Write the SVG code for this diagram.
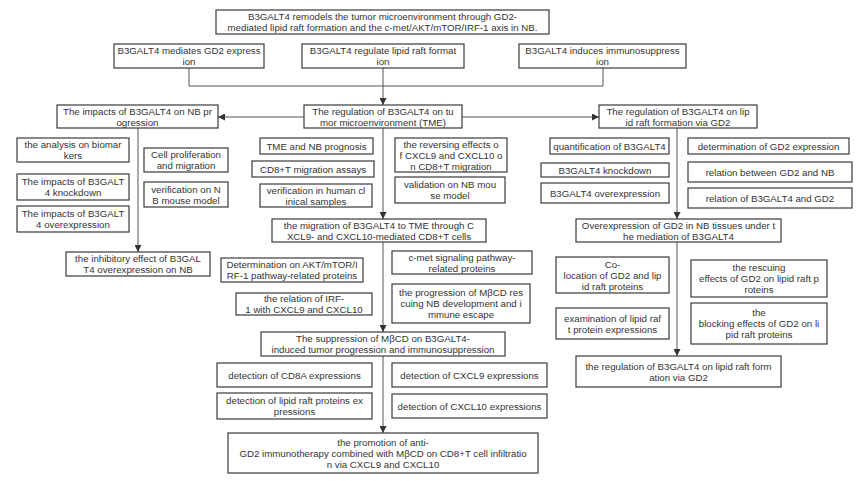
<svg xmlns="http://www.w3.org/2000/svg" width="860" height="481" viewBox="0 0 860 481">
<defs>
<marker id="ah" viewBox="0 0 8 8" refX="8" refY="4" markerWidth="7" markerHeight="7" markerUnits="userSpaceOnUse" orient="auto">
<path d="M0,0 L8,4 L0,8 z" fill="#333"/>
</marker>
</defs>
<style>
.b{fill:#fff;stroke:#3a3a3a;stroke-width:1.2}
.t{font-family:"Liberation Sans",Arial,sans-serif;font-size:9.7px;fill:#333;text-anchor:middle}
.c{fill:none;stroke:#555;stroke-width:1}
.a{marker-end:url(#ah)}
</style>
<rect width="860" height="481" fill="#fff"/>
<g id="connectors">
<path class="c" d="M189,68 V86 H603 V68"/>
<path class="c a" d="M383,68 V105"/>
<path class="c a" d="M304,117 H218"/>
<path class="c a" d="M462,117 H599"/>
<path class="c a" d="M138,128 V252"/>
<path class="c a" d="M383,128 V219"/>
<path class="c a" d="M677,128 V219"/>
<path class="c a" d="M383,242 V332"/>
<path class="c a" d="M677,242 V356"/>
<path class="c a" d="M383,356 V433"/>
</g>
<g id="title"><rect class="b" x="216" y="10" width="333" height="24"/><text class="t" x="382.5" y="20.3">B3GALT4 remodels the tumor microenvironment through GD2-<tspan x="382.5" dy="11">mediated lipid raft formation and the c-met/AKT/mTOR/IRF-1 axis in NB.</tspan></text></g>
<g id="n_mediates"><rect class="b" x="114" y="44" width="150" height="24"/><text class="t" x="189" y="54.3">B3GALT4 mediates GD2 express<tspan x="189" dy="11">ion</tspan></text></g>
<g id="n_regulate"><rect class="b" x="302" y="44" width="162" height="24"/><text class="t" x="383" y="54.3">B3GALT4 regulate lipid raft format<tspan x="383" dy="11">ion</tspan></text></g>
<g id="n_induces"><rect class="b" x="519" y="44" width="167" height="24"/><text class="t" x="602.5" y="54.3">B3GALT4 induces immunosuppress<tspan x="602.5" dy="11">ion</tspan></text></g>
<g id="n_impacts"><rect class="b" x="57" y="105" width="161" height="23"/><text class="t" x="137.5" y="114.8">The impacts of B3GALT4 on NB pr<tspan x="137.5" dy="11">ogression</tspan></text></g>
<g id="n_tme"><rect class="b" x="304" y="105" width="158" height="23"/><text class="t" x="383" y="114.8">The regulation of B3GALT4 on tu<tspan x="383" dy="11">mor microenvironment (TME)</tspan></text></g>
<g id="n_raft"><rect class="b" x="599" y="105" width="158" height="23"/><text class="t" x="678" y="114.8">The regulation of B3GALT4 on lip<tspan x="678" dy="11">id raft formation via GD2</tspan></text></g>
<g id="n_biomarkers"><rect class="b" x="17" y="138" width="112" height="24"/><text class="t" x="73" y="148.3">the analysis on biomar<tspan x="73" dy="11">kers</tspan></text></g>
<g id="n_knockdown"><rect class="b" x="17" y="174" width="112" height="26"/><text class="t" x="73" y="185.3">The impacts of B3GALT<tspan x="73" dy="11">4 knockdown</tspan></text></g>
<g id="n_overexp"><rect class="b" x="17" y="206" width="112" height="26"/><text class="t" x="73" y="217.3">The impacts of B3GALT<tspan x="73" dy="11">4 overexpression</tspan></text></g>
<g id="n_prolif"><rect class="b" x="144" y="148" width="84" height="24"/><text class="t" x="186" y="158.3">Cell proliferation<tspan x="186" dy="11">and migration</tspan></text></g>
<g id="n_mouse"><rect class="b" x="144" y="182" width="84" height="25"/><text class="t" x="186" y="192.8">verification on N<tspan x="186" dy="11">B mouse model</tspan></text></g>
<g id="n_inhib"><rect class="b" x="66" y="252" width="144" height="24"/><text class="t" x="138" y="262.3">the inhibitory effect of B3GAL<tspan x="138" dy="11">T4 overexpression on NB</tspan></text></g>
<g id="n_prog"><rect class="b" x="260" y="138" width="113" height="16"/><text class="t" x="316.5" y="149.8">TME and NB prognosis</text></g>
<g id="n_cd8"><rect class="b" x="252" y="161" width="122" height="16"/><text class="t" x="313" y="172.8">CD8+T migration assays</text></g>
<g id="n_human"><rect class="b" x="260" y="184" width="112" height="23"/><text class="t" x="316" y="193.8">verification in human cl<tspan x="316" dy="11">inical samples</tspan></text></g>
<g id="n_reverse"><rect class="b" x="395" y="138" width="112" height="34"/><text class="t" x="451" y="147.8">the reversing effects o<tspan x="451" dy="11">f CXCL9 and CXCL10 o</tspan><tspan x="451" dy="11">n CD8+T migration</tspan></text></g>
<g id="n_validation"><rect class="b" x="395" y="177" width="110" height="26"/><text class="t" x="450" y="188.3">validation on NB mou<tspan x="450" dy="11">se model</tspan></text></g>
<g id="n_migration"><rect class="b" x="272" y="219" width="214" height="23"/><text class="t" x="379" y="228.8">the migration of B3GALT4 to TME through C<tspan x="379" dy="11">XCL9- and CXCL10-mediated CD8+T cells</tspan></text></g>
<g id="n_akt"><rect class="b" x="221" y="258" width="142" height="24"/><text class="t" x="292" y="268.3">Determination on AKT/mTOR/I<tspan x="292" dy="11">RF-1 pathway-related proteins</tspan></text></g>
<g id="n_irf"><rect class="b" x="236" y="293" width="136" height="22"/><text class="t" x="304" y="302.3">the relation of IRF-<tspan x="304" dy="11">1 with CXCL9 and CXCL10</tspan></text></g>
<g id="n_cmet"><rect class="b" x="392" y="251" width="140" height="23"/><text class="t" x="462" y="260.8">c-met signaling pathway-<tspan x="462" dy="11">related proteins</tspan></text></g>
<g id="n_mbcd"><rect class="b" x="392" y="284" width="138" height="39"/><text class="t" x="461" y="296.3">the progression of MβCD res<tspan x="461" dy="11">cuing NB development and i</tspan><tspan x="461" dy="11">mmune escape</tspan></text></g>
<g id="n_suppression"><rect class="b" x="261" y="332" width="244" height="24"/><text class="t" x="383" y="342.3">The suppression of MβCD on B3GALT4-<tspan x="383" dy="11">induced tumor progression and immunosuppression</tspan></text></g>
<g id="n_cd8a"><rect class="b" x="217" y="363" width="155" height="24"/><text class="t" x="294.5" y="378.8">detection of CD8A expressions</text></g>
<g id="n_lipid"><rect class="b" x="217" y="393" width="155" height="26"/><text class="t" x="294.5" y="404.3">detection of lipid raft proteins ex<tspan x="294.5" dy="11">pressions</tspan></text></g>
<g id="n_cxcl9"><rect class="b" x="392" y="363" width="155" height="24"/><text class="t" x="469.5" y="378.8">detection of CXCL9 expressions</text></g>
<g id="n_cxcl10"><rect class="b" x="392" y="394" width="155" height="24"/><text class="t" x="469.5" y="409.8">detection of CXCL10 expressions</text></g>
<g id="n_promotion"><rect class="b" x="228" y="433" width="310" height="40"/><text class="t" x="383" y="445.8">the promotion of anti-<tspan x="383" dy="11">GD2 immunotherapy combined with MβCD on CD8+T cell infiltratio</tspan><tspan x="383" dy="11">n via CXCL9 and CXCL10</tspan></text></g>
<g id="n_quant"><rect class="b" x="550" y="138" width="119" height="16"/><text class="t" x="609.5" y="149.8">quantification of B3GALT4</text></g>
<g id="n_gd2expr"><rect class="b" x="688" y="138" width="161" height="16"/><text class="t" x="768.5" y="149.8">determination of GD2 expression</text></g>
<g id="n_b3kd"><rect class="b" x="541" y="163" width="128" height="14"/><text class="t" x="605" y="173.8">B3GALT4 knockdown</text></g>
<g id="n_b3oe"><rect class="b" x="541" y="183" width="128" height="20"/><text class="t" x="605" y="196.8">B3GALT4 overexpression</text></g>
<g id="n_relnb"><rect class="b" x="688" y="162" width="164" height="20"/><text class="t" x="770" y="175.8">relation between GD2 and NB</text></g>
<g id="n_relb3"><rect class="b" x="688" y="188" width="164" height="20"/><text class="t" x="770" y="201.8">relation of B3GALT4 and GD2</text></g>
<g id="n_ovgd2"><rect class="b" x="576" y="219" width="205" height="23"/><text class="t" x="678.5" y="228.8">Overexpression of GD2 in NB tissues under t<tspan x="678.5" dy="11">he mediation of B3GALT4</tspan></text></g>
<g id="n_coloc"><rect class="b" x="556" y="257" width="113" height="36"/><text class="t" x="612.5" y="267.8">Co-<tspan x="612.5" dy="11">location of GD2 and lip</tspan><tspan x="612.5" dy="11">id raft proteins</tspan></text></g>
<g id="n_exam"><rect class="b" x="556" y="308" width="113" height="31"/><text class="t" x="612.5" y="321.8">examination of lipid raf<tspan x="612.5" dy="11">t protein expressions</tspan></text></g>
<g id="n_rescue"><rect class="b" x="691" y="260" width="136" height="37"/><text class="t" x="759" y="271.3">the rescuing<tspan x="759" dy="11">effects of GD2 on lipid raft p</tspan><tspan x="759" dy="11">roteins</tspan></text></g>
<g id="n_block"><rect class="b" x="691" y="303" width="136" height="41"/><text class="t" x="759" y="316.3">the<tspan x="759" dy="11">blocking effects of GD2 on li</tspan><tspan x="759" dy="11">pid raft proteins</tspan></text></g>
<g id="n_final"><rect class="b" x="576" y="356" width="205" height="31"/><text class="t" x="678.5" y="369.8">the regulation of B3GALT4 on lipid raft form<tspan x="678.5" dy="11">ation via GD2</tspan></text></g>
</svg>
